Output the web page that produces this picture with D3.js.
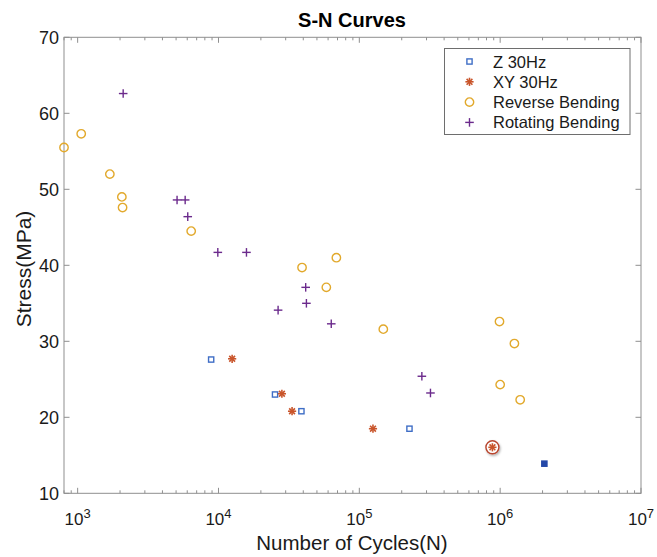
<!DOCTYPE html>
<html lang="en">
<head>
<meta charset="utf-8">
<title>S-N Curves</title>
<script src="https://d3js.org/d3.v7.min.js"></script>
<style>
  body { margin: 0; background: #fff; }
  text { font-family: "Liberation Sans", Arial, sans-serif; }
</style>
</head>
<body>
<script>
var w = 657, h = 557;
var padLeft = 64, padRight = 641, padTop = 37.3, padBottom = 493.3;

// data
var zCycles = [8870, 25200, 38800, 227000];
var zStress = [27.6, 23.0, 20.8, 18.5];
var xyCycles = [12500, 28200, 33300, 125000, 881000];
var xyStress = [27.7, 23.1, 20.8, 18.5, 16.05];
var revCycles = [800, 1060, 1693, 2060, 2084, 6400, 39200, 58300, 68700, 148000, 989000, 1262000, 1000000, 1387000];
var revStress = [55.5, 57.3, 52.0, 49.0, 47.6, 44.5, 39.7, 37.1, 41.0, 31.6, 32.6, 29.7, 24.3, 22.3];
var rotCycles = [2105, 5080, 5800, 6050, 9890, 15800, 26500, 41600, 42100, 63200, 278000, 320000];
var rotStress = [62.6, 48.6, 48.6, 46.4, 41.7, 41.7, 34.1, 37.1, 35.0, 32.3, 25.4, 23.2];
// highlighted points (data tips)
var tipXY = [881000, 16.05];
var tipZ = [2060000, 13.9];

var xTicks = [1e3, 1e4, 1e5, 1e6, 1e7];
var yTicks = [10, 20, 30, 40, 50, 60, 70];
var legendLabels = ["Z 30Hz", "XY 30Hz", "Reverse Bending", "Rotating Bending"];

var blue = "#3f6ec6", orange = "#c9552b", gold = "#e2a92c", purple = "#6b2a8c";
var axisCol = "#8f8f8f";

var xScale = d3.scaleLog().domain([800, 1e7]).range([padLeft, padRight]);
var yScale = d3.scaleLinear().domain([10, 70]).range([padBottom, padTop]);

var svg = d3.select("body").append("svg").attr("width", w).attr("height", h);

// minor ticks for the log axis
var minor = [];
for (var k = 2; k <= 6; k++) {
  for (var m = 2; m <= 9; m++) {
    var v = m * Math.pow(10, k);
    if (v >= 800 && v < 1e7) minor.push(v);
  }
}

// axes (box)
svg.append("rect")
  .attr("x", padLeft).attr("y", padTop)
  .attr("width", padRight - padLeft).attr("height", padBottom - padTop)
  .attr("fill", "none").attr("stroke", axisCol).attr("stroke-width", 1);

var g = svg.append("g").attr("stroke", axisCol).attr("stroke-width", 1);
minor.forEach(function (v) {
  var x = xScale(v);
  g.append("line").attr("x1", x).attr("x2", x).attr("y1", padBottom).attr("y2", padBottom - 3);
  g.append("line").attr("x1", x).attr("x2", x).attr("y1", padTop).attr("y2", padTop + 3);
});
xTicks.forEach(function (v) {
  var x = xScale(v);
  g.append("line").attr("x1", x).attr("x2", x).attr("y1", padBottom).attr("y2", padBottom - 5.5);
  g.append("line").attr("x1", x).attr("x2", x).attr("y1", padTop).attr("y2", padTop + 5.5);
});
yTicks.forEach(function (v) {
  var y = yScale(v);
  g.append("line").attr("x1", padLeft).attr("x2", padLeft + 5.5).attr("y1", y).attr("y2", y);
  g.append("line").attr("x1", padRight).attr("x2", padRight - 5.5).attr("y1", y).attr("y2", y);
});

// tick labels
svg.selectAll("text.ylab").data(yTicks).enter().append("text")
  .attr("class", "ylab")
  .attr("x", padLeft - 5).attr("y", d => yScale(d) + 6.5)
  .attr("text-anchor", "end").attr("font-size", 18).attr("fill", "#1a1a1a")
  .text(d => d);

var xl = svg.selectAll("text.xlab").data(xTicks).enter().append("text")
  .attr("class", "xlab")
  .attr("x", d => xScale(d)).attr("y", padBottom + 31.7)
  .attr("text-anchor", "middle").attr("font-size", 17).attr("fill", "#1a1a1a");
xl.append("tspan").text("10");
xl.append("tspan").attr("dy", -7).attr("font-size", 13).text(d => Math.round(Math.log10(d)));

// title and labels
svg.append("text").attr("x", 352).attr("y", 26.5)
  .attr("text-anchor", "middle").attr("font-size", 20).attr("font-weight", "bold")
  .attr("fill", "#000").text("S-N Curves");
svg.append("text").attr("x", 352).attr("y", 550)
  .attr("text-anchor", "middle").attr("font-size", 20.5).attr("fill", "#1a1a1a")
  .text("Number of Cycles(N)");
svg.append("text").attr("transform", "translate(30.5,269) rotate(-90)")
  .attr("text-anchor", "middle").attr("font-size", 21).attr("fill", "#1a1a1a")
  .text("Stress(MPa)");

// marker helpers
function square(sel, fill, col) {
  sel.append("rect").attr("x", -2.6).attr("y", -2.6).attr("width", 5.2).attr("height", 5.2)
    .attr("fill", fill).attr("stroke", col).attr("stroke-width", 1.4);
}
function star(sel, col) {
  var r = 4.1;
  [0, 45, 90, 135].forEach(function (a) {
    var t = a * Math.PI / 180;
    sel.append("line")
      .attr("x1", -r * Math.cos(t)).attr("y1", -r * Math.sin(t))
      .attr("x2", r * Math.cos(t)).attr("y2", r * Math.sin(t))
      .attr("stroke", col).attr("stroke-width", 1.6);
  });
}
function ring(sel, col) {
  sel.append("circle").attr("r", 4.2).attr("fill", "none")
    .attr("stroke", col).attr("stroke-width", 1.4);
}
function plus(sel, col) {
  sel.append("line").attr("x1", -4.3).attr("x2", 4.3).attr("y1", 0).attr("y2", 0)
    .attr("stroke", col).attr("stroke-width", 1.4);
  sel.append("line").attr("x1", 0).attr("x2", 0).attr("y1", -4.3).attr("y2", 4.3)
    .attr("stroke", col).attr("stroke-width", 1.4);
}

function series(xs, ys, draw) {
  svg.append("g").selectAll("g").data(xs.map((x, i) => [x, ys[i]])).enter()
    .append("g")
    .attr("transform", d => "translate(" + xScale(d[0]) + "," + yScale(d[1]) + ")")
    .each(function () { draw(d3.select(this)); });
}

series(revCycles, revStress, s => ring(s, gold));
series(rotCycles, rotStress, s => plus(s, purple));
series(zCycles, zStress, s => square(s, "#fff", blue));
series(xyCycles, xyStress, s => star(s, orange));

// data tips
var defs = svg.append("defs");
var f = defs.append("filter").attr("id", "shadow").attr("x", "-50%").attr("y", "-50%")
  .attr("width", "200%").attr("height", "200%");
f.append("feDropShadow").attr("dx", 1).attr("dy", 1.5).attr("stdDeviation", 1.2)
  .attr("flood-color", "#000").attr("flood-opacity", 0.3);

var t1 = svg.append("g").attr("transform", "translate(" + xScale(tipXY[0]) + "," + yScale(tipXY[1]) + ")");
t1.append("circle").attr("r", 6.5).attr("fill", "#fff").attr("stroke", "#b8452e")
  .attr("stroke-width", 1.4).attr("filter", "url(#shadow)");
star(t1, orange);
var t2 = svg.append("g").attr("transform", "translate(" + xScale(tipZ[0]) + "," + yScale(tipZ[1]) + ")");
square(t2, "#2448a8", "#2448a8");

// legend
var lg = svg.append("g").attr("transform", "translate(444.5,48.5)");
lg.append("rect").attr("width", 185.5).attr("height", 86)
  .attr("fill", "#fff").attr("stroke", "#6e6e6e").attr("stroke-width", 1);
var drawers = [s => square(s, "#fff", blue), s => star(s, orange), s => ring(s, gold), s => plus(s, purple)];
legendLabels.forEach(function (lab, i) {
  var y = 13 + i * 20.3;
  var mk = lg.append("g").attr("transform", "translate(25," + y + ")");
  drawers[i](mk);
  lg.append("text").attr("x", 48.5).attr("y", y + 6)
    .attr("font-size", 16.5).attr("fill", "#1a1a1a").text(lab);
});
</script>
</body>
</html>
